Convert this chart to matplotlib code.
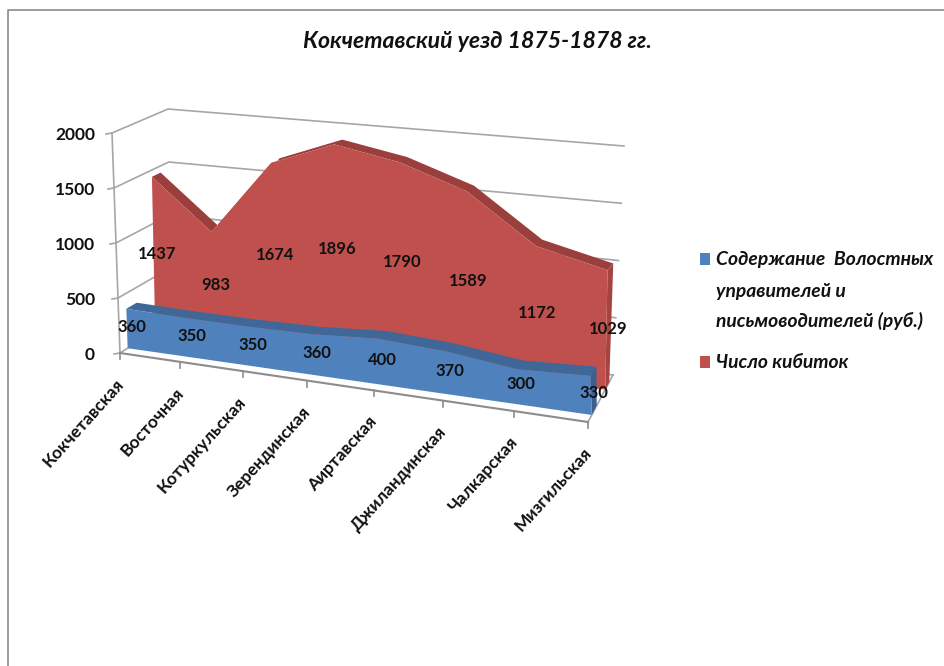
import numpy as np
import matplotlib
matplotlib.use("Agg")
import matplotlib.pyplot as plt
from matplotlib.patches import Polygon, Rectangle

plt.rcParams['font.family'] = ['Lato', 'DejaVu Sans']

# Данные
volosti = ["Кокчетавская", "Восточная", "Котуркульская", "Зерендинская",
           "Аиртавская", "Джиландинская", "Чалкарская", "Мизгильская"]
soderzhanie = [360, 350, 350, 360, 400, 370, 300, 330]
kibitki = [1437, 983, 1674, 1896, 1790, 1589, 1172, 1029]
y_ticks = [0, 500, 1000, 1500, 2000]

title = "Кокчетавский уезд 1875-1878 гг."
legend_blue = ["Содержание  Волостных", "управителей и", "письмоводителей (руб.)"]
legend_red = "Число кибиток"

BLUE, BLUE_TOP = "#4f81bd", "#3f6797"
RED, RED_TOP, RED_SIDE = "#c0504d", "#9b3f3d", "#a64441"
GRID = "#a6a6a6"
TEXT = "#111111"

# Углы трёхмерной коробки диаграммы на картинке (пиксели)
front_bottom = np.array([[120, 353], [588, 422]], float)
front_top = np.array([[112, 133], [578, 183]], float)
back_bottom = np.array([[171, 321], [613, 375]], float)
back_top = np.array([[168, 109], [624, 146]], float)
z_max = 2000
n = len(volosti)


def proj(cat, z, d):
    # cat - номер категории, z - значение, d - глубина от 0 до 1
    u = cat / (n - 1)
    u = u / (1.127 * (1 - u) + u)
    t = z / z_max
    front = (front_bottom[0] * (1 - u) + front_bottom[1] * u) * (1 - t) + (front_top[0] * (1 - u) + front_top[1] * u) * t
    back = (back_bottom[0] * (1 - u) + back_bottom[1] * u) * (1 - t) + (back_top[0] * (1 - u) + back_top[1] * u) * t
    return front * (1 - d) + back * d


fig = plt.figure(figsize=(9.44, 6.66), dpi=100)
ax = fig.add_axes([0, 0, 1, 1])
ax.set_xlim(0, 944)
ax.set_ylim(666, 0)
ax.axis("off")

# рамка диаграммы
ax.plot([7.5, 7.5, 944], [666, 10, 10], color="#8c8c8c", lw=1.2)

# сетка на стенках
for v in y_ticks:
    pts = [proj(0, v, 0), proj(0, v, 1), proj(n - 1, v, 1)]
    ax.plot([p[0] for p in pts], [p[1] for p in pts], color=GRID, lw=1.2, zorder=1)
    ax.text(95, proj(0, v, 0)[1] + 2, str(v), ha="right", va="center", fontsize=12.5, fontweight="bold", color=TEXT)
    p = proj(0, v, 0)
    ax.plot([p[0] - 6, p[0]], [p[1] + 1, p[1]], color=GRID, lw=1.2, zorder=1)
pts = [proj(0, 0, 0), proj(0, z_max, 0)]
ax.plot([p[0] for p in pts], [p[1] for p in pts], color=GRID, lw=1.2, zorder=1)
pts = [proj(n - 1, 0, 0), proj(n - 1, 0, 1)]
ax.plot([p[0] for p in pts], [p[1] for p in pts], color=GRID, lw=1.2, zorder=1)
pts = [proj(0, 0, 0), proj(n - 1, 0, 0)]
ax.plot([p[0] for p in pts], [p[1] for p in pts], color="#8c8c8c", lw=1.5, zorder=1)

# подписи категорий и засечки
for i, name in enumerate(volosti):
    p = proj(i, 0, 0)
    ax.plot([p[0], p[0]], [p[1], p[1] + 6], color="#8c8c8c", lw=1.2, zorder=1)
    ax.text(p[0] - 5, p[1] + 23, name, rotation=48, rotation_mode="anchor", ha="right", va="top",
            fontsize=12.5, fontweight="bold", color=TEXT)


def draw_area(values, d0, d1, face, top, side, z):
    cats = np.arange(n)
    front = [proj(i, values[i], d0) for i in cats]
    back = [proj(i, values[i], d1) for i in cats]
    base = [proj(i, 0, d0) for i in cats]
    # правая боковая грань
    ax.add_patch(Polygon([proj(n - 1, 0, d0), proj(n - 1, 0, d1), back[-1], front[-1]],
                         fc=side, ec="none", zorder=z))
    ax.add_patch(Polygon(front + back[::-1], fc=top, ec="none", zorder=z))
    ax.add_patch(Polygon(front + base[::-1], fc=face, ec="none", zorder=z + 0.1))


draw_area(kibitki, 0.69, 0.85, RED, RED_TOP, RED_SIDE, 2)
draw_area(soderzhanie, 0.15, 0.35, BLUE, BLUE_TOP, "#3a6090", 3)

# подписи значений: середина столбца по высоте и глубине
for i in range(n):
    p = proj(i, kibitki[i] / 2, 0.75)
    ax.text(p[0], p[1] + 2, str(kibitki[i]), ha="center", va="center", fontsize=12, fontweight="bold", color=TEXT, zorder=5)
    p = proj(i, soderzhanie[i] / 2, 0.25)
    ax.text(p[0], p[1] + 2, str(soderzhanie[i]), ha="center", va="center", fontsize=12, fontweight="bold", color=TEXT, zorder=5)

ax.text(477, 42, title, ha="center", va="center", fontsize=16.6, fontweight="bold", fontstyle="italic", color=TEXT)

# легенда
ax.add_patch(Rectangle((700, 253), 10, 12, fc=BLUE, ec="none"))
ax.add_patch(Rectangle((700, 356), 10, 12, fc=RED, ec="none"))
for line, y in zip(legend_blue, [260, 291, 321]):
    ax.text(716, y, line, ha="left", va="center", fontsize=13.9, fontweight="bold", fontstyle="italic", color=TEXT)
ax.text(716, 362, legend_red, ha="left", va="center", fontsize=13.9, fontweight="bold", fontstyle="italic", color=TEXT)

fig.savefig("out.png", dpi=100)
